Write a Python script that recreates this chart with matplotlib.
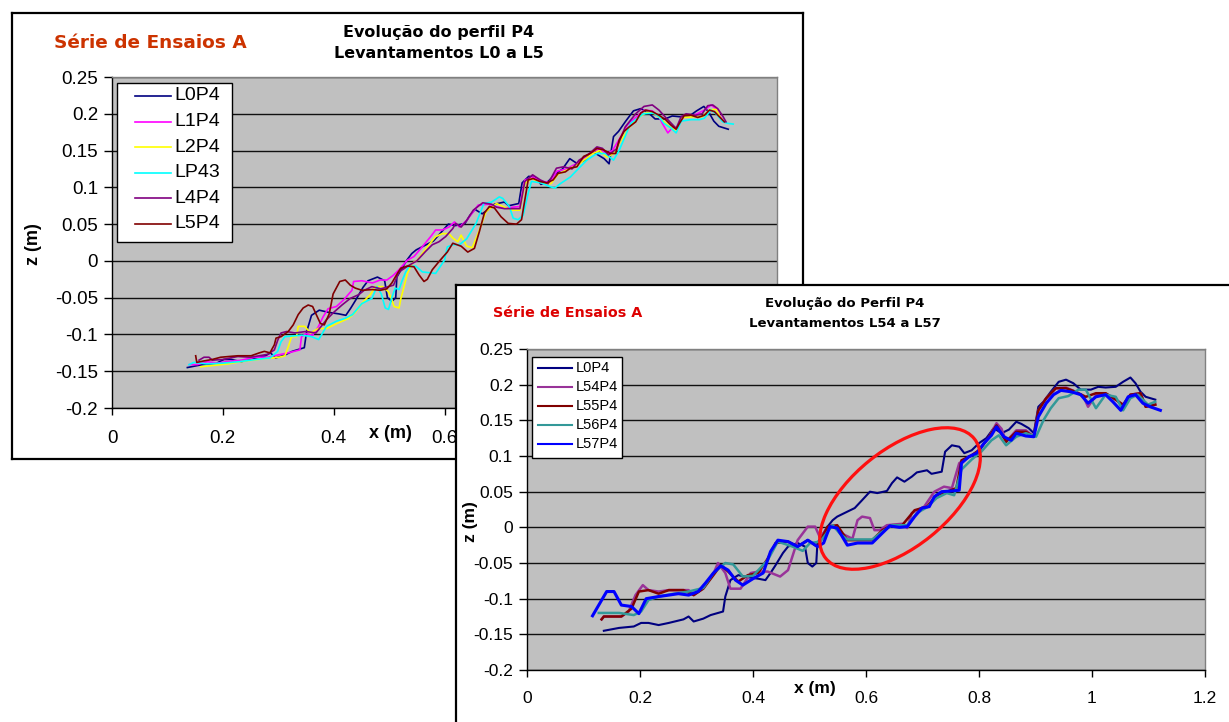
import matplotlib
matplotlib.use("Agg")
import matplotlib.pyplot as plt
from matplotlib.patches import Ellipse, Rectangle
from matplotlib.lines import Line2D

# ---------------- data ----------------
yticks = [0.25, 0.2, 0.15, 0.1, 0.05, 0, -0.05, -0.1, -0.15, -0.2]
ytick_labels = ['0.25', '0.2', '0.15', '0.1', '0.05', '0', '-0.05', '-0.1', '-0.15', '-0.2']
xticks = [0, 0.2, 0.4, 0.6, 0.8, 1.0, 1.2]
xtick_labels = ['0', '0.2', '0.4', '0.6', '0.8', '1', '1.2']

L0P4 = [(0.136,-0.145),(0.163,-0.141),(0.189,-0.139),(0.202,-0.134),(0.215,-0.134),(0.233,-0.137),
        (0.251,-0.134),(0.277,-0.129),(0.286,-0.125),(0.295,-0.132),(0.312,-0.128),(0.325,-0.123),
        (0.347,-0.118),(0.351,-0.097),(0.360,-0.074),(0.374,-0.067),(0.391,-0.070),(0.409,-0.072),
        (0.422,-0.074),(0.431,-0.064),(0.440,-0.053),(0.453,-0.036),(0.462,-0.027),(0.479,-0.022),
        (0.492,-0.027),(0.497,-0.050),(0.505,-0.055),(0.512,-0.050),(0.514,-0.022),(0.521,-0.013),
        (0.532,0.001),(0.541,0.010),(0.549,0.015),(0.567,0.022),(0.580,0.027),(0.593,0.038),
        (0.607,0.050),(0.620,0.048),(0.637,0.051),(0.646,0.062),(0.655,0.070),(0.668,0.064),
        (0.681,0.071),(0.690,0.077),(0.708,0.080),(0.716,0.075),(0.734,0.078),(0.740,0.106),
        (0.752,0.115),(0.765,0.113),(0.774,0.104),(0.787,0.108),(0.800,0.118),(0.813,0.125),
        (0.826,0.139),(0.840,0.132),(0.853,0.137),(0.866,0.148),(0.875,0.145),(0.888,0.139),
        (0.897,0.132),(0.905,0.169),(0.914,0.176),(0.927,0.190),(0.941,0.204),(0.954,0.207),
        (0.967,0.202),(0.980,0.193),(0.998,0.193),(1.011,0.197),(1.024,0.196),(1.042,0.197),
        (1.055,0.204),(1.068,0.210),(1.077,0.202),(1.086,0.190),(1.095,0.183),(1.112,0.179)]

L1P4 = [(0.140,-0.141),(0.154,-0.141),(0.172,-0.137),(0.190,-0.139),(0.206,-0.137),(0.233,-0.135),
        (0.257,-0.131),(0.281,-0.131),(0.299,-0.128),(0.318,-0.125),(0.339,-0.121),(0.342,-0.103),
        (0.350,-0.099),(0.362,-0.101),(0.372,-0.090),(0.381,-0.076),(0.390,-0.065),(0.405,-0.062),
        (0.418,-0.053),(0.433,-0.040),(0.436,-0.028),(0.451,-0.027),(0.470,-0.030),(0.484,-0.026),
        (0.496,-0.026),(0.507,-0.020),(0.518,-0.012),(0.533,0.001),(0.545,0.006),(0.563,0.022),
        (0.575,0.033),(0.584,0.042),(0.596,0.042),(0.608,0.046),(0.618,0.053),(0.627,0.046),
        (0.640,0.055),(0.650,0.065),(0.661,0.076),(0.680,0.077),(0.695,0.073),(0.710,0.072),
        (0.736,0.074),(0.745,0.110),(0.760,0.114),(0.775,0.108),(0.790,0.107),(0.803,0.122),
        (0.820,0.125),(0.840,0.133),(0.860,0.145),(0.877,0.152),(0.893,0.146),(0.903,0.150),
        (0.915,0.165),(0.930,0.185),(0.945,0.195),(0.960,0.205),(0.975,0.204),(0.987,0.196),
        (0.993,0.187),(1.003,0.174),(1.010,0.180),(1.020,0.182),(1.033,0.198),(1.050,0.198),
        (1.069,0.205),(1.081,0.212),(1.090,0.207),(1.100,0.193)]

L2P4 = [(0.160,-0.144),(0.184,-0.142),(0.210,-0.140),(0.233,-0.137),(0.263,-0.134),(0.287,-0.132),
        (0.302,-0.131),(0.312,-0.129),(0.318,-0.117),(0.324,-0.103),(0.333,-0.103),(0.336,-0.089),
        (0.348,-0.089),(0.358,-0.098),(0.372,-0.092),(0.387,-0.092),(0.406,-0.085),(0.427,-0.078),
        (0.439,-0.070),(0.454,-0.055),(0.466,-0.046),(0.475,-0.035),(0.488,-0.035),(0.499,-0.042),
        (0.505,-0.053),(0.509,-0.062),(0.518,-0.064),(0.521,-0.052),(0.527,-0.035),(0.533,-0.017),
        (0.542,-0.003),(0.551,0.001),(0.560,0.010),(0.572,0.022),(0.584,0.033),(0.596,0.037),
        (0.608,0.037),(0.615,0.031),(0.624,0.026),(0.630,0.035),(0.640,0.020),(0.650,0.018),
        (0.662,0.040),(0.675,0.067),(0.694,0.078),(0.708,0.073),(0.722,0.069),(0.736,0.069),
        (0.745,0.105),(0.757,0.112),(0.775,0.106),(0.792,0.105),(0.805,0.118),(0.825,0.125),
        (0.845,0.133),(0.865,0.145),(0.880,0.150),(0.893,0.141),(0.905,0.146),(0.918,0.163),
        (0.935,0.183),(0.950,0.195),(0.965,0.202),(0.980,0.200),(0.995,0.190),(1.010,0.180),
        (1.018,0.178),(1.030,0.195),(1.050,0.196),(1.065,0.196),(1.078,0.205),(1.090,0.206),
        (1.100,0.192)]

LP43 = [(0.139,-0.141),(0.148,-0.138),(0.170,-0.140),(0.200,-0.139),(0.230,-0.137),(0.260,-0.134),
        (0.285,-0.132),(0.299,-0.123),(0.305,-0.110),(0.312,-0.103),(0.327,-0.102),(0.342,-0.101),
        (0.360,-0.103),(0.373,-0.107),(0.387,-0.089),(0.405,-0.082),(0.421,-0.078),(0.434,-0.073),
        (0.451,-0.058),(0.469,-0.051),(0.478,-0.035),(0.486,-0.045),(0.493,-0.064),(0.499,-0.066),
        (0.505,-0.050),(0.511,-0.037),(0.518,-0.039),(0.524,-0.026),(0.530,-0.015),(0.536,-0.008),
        (0.548,-0.007),(0.560,-0.015),(0.584,-0.017),(0.600,0.001),(0.605,0.019),(0.615,0.022),
        (0.627,0.022),(0.640,0.030),(0.657,0.051),(0.671,0.078),(0.685,0.080),(0.699,0.087),
        (0.705,0.085),(0.717,0.074),(0.724,0.058),(0.733,0.056),(0.742,0.062),(0.751,0.092),
        (0.757,0.108),(0.775,0.106),(0.790,0.101),(0.799,0.099),(0.809,0.105),(0.827,0.114),
        (0.845,0.128),(0.857,0.137),(0.875,0.146),(0.890,0.146),(0.905,0.137),(0.915,0.150),
        (0.936,0.187),(0.959,0.200),(0.978,0.201),(0.987,0.196),(0.996,0.187),(1.008,0.181),
        (1.018,0.174),(1.027,0.190),(1.045,0.192),(1.060,0.192),(1.069,0.194),(1.081,0.205),
        (1.090,0.200),(1.102,0.189),(1.111,0.187),(1.121,0.186)]

L4P4 = [(0.157,-0.135),(0.166,-0.131),(0.175,-0.131),(0.181,-0.135),(0.200,-0.134),(0.227,-0.130),
        (0.250,-0.131),(0.281,-0.127),(0.293,-0.121),(0.299,-0.108),(0.305,-0.098),(0.315,-0.096),
        (0.330,-0.098),(0.350,-0.096),(0.368,-0.098),(0.387,-0.080),(0.400,-0.070),(0.415,-0.060),
        (0.430,-0.051),(0.445,-0.046),(0.455,-0.040),(0.469,-0.035),(0.485,-0.038),(0.499,-0.035),
        (0.508,-0.033),(0.518,-0.015),(0.536,-0.006),(0.550,0.000),(0.566,0.013),(0.578,0.022),
        (0.590,0.026),(0.602,0.033),(0.615,0.044),(0.620,0.051),(0.630,0.046),(0.640,0.055),
        (0.652,0.069),(0.669,0.079),(0.685,0.077),(0.694,0.073),(0.708,0.071),(0.736,0.071),
        (0.745,0.108),(0.759,0.117),(0.773,0.110),(0.787,0.105),(0.802,0.126),(0.815,0.128),
        (0.830,0.125),(0.843,0.137),(0.860,0.145),(0.875,0.155),(0.885,0.153),(0.896,0.144),
        (0.910,0.152),(0.926,0.182),(0.945,0.200),(0.960,0.210),(0.975,0.212),(0.987,0.205),
        (0.999,0.195),(1.008,0.188),(1.018,0.180),(1.027,0.196),(1.036,0.200),(1.053,0.198),
        (1.065,0.200),(1.075,0.211),(1.084,0.212),(1.093,0.207),(1.102,0.197),(1.108,0.189)]

L5P4 = [(0.151,-0.129),(0.153,-0.138),(0.166,-0.136),(0.181,-0.134),(0.196,-0.131),(0.211,-0.130),
        (0.227,-0.129),(0.251,-0.129),(0.266,-0.125),(0.275,-0.123),(0.285,-0.125),(0.293,-0.114),
        (0.296,-0.105),(0.305,-0.103),(0.318,-0.096),(0.327,-0.087),(0.336,-0.073),(0.345,-0.064),
        (0.354,-0.060),(0.362,-0.062),(0.368,-0.072),(0.376,-0.085),(0.383,-0.087),(0.392,-0.072),
        (0.399,-0.045),(0.411,-0.028),(0.421,-0.026),(0.430,-0.033),(0.439,-0.037),(0.451,-0.040),
        (0.470,-0.039),(0.484,-0.040),(0.496,-0.038),(0.505,-0.030),(0.515,-0.017),(0.521,-0.010),
        (0.533,-0.007),(0.545,-0.008),(0.554,-0.019),(0.563,-0.028),(0.569,-0.025),(0.578,-0.012),
        (0.590,-0.001),(0.605,0.012),(0.615,0.024),(0.630,0.020),(0.642,0.012),(0.654,0.017),
        (0.663,0.040),(0.672,0.065),(0.681,0.074),(0.690,0.072),(0.702,0.060),(0.715,0.051),
        (0.730,0.050),(0.739,0.056),(0.745,0.083),(0.751,0.110),(0.760,0.112),(0.772,0.108),
        (0.784,0.106),(0.796,0.110),(0.805,0.119),(0.818,0.121),(0.827,0.126),(0.839,0.128),
        (0.851,0.142),(0.863,0.146),(0.875,0.153),(0.887,0.151),(0.899,0.146),(0.909,0.146),
        (0.915,0.164),(0.924,0.176),(0.933,0.182),(0.945,0.189),(0.954,0.201),(0.963,0.205),
        (0.975,0.203),(0.987,0.198),(0.999,0.192),(1.008,0.185),(1.018,0.179),(1.024,0.187),
        (1.033,0.198),(1.045,0.198),(1.057,0.195),(1.069,0.198),(1.078,0.205),(1.087,0.203),
        (1.096,0.196),(1.105,0.189)]

L54P4 = [(0.132,-0.129),(0.136,-0.125),(0.167,-0.125),(0.180,-0.118),(0.192,-0.095),(0.205,-0.081),
         (0.215,-0.088),(0.233,-0.090),(0.251,-0.088),(0.270,-0.088),(0.286,-0.088),(0.295,-0.095),
         (0.312,-0.085),(0.330,-0.065),(0.338,-0.050),(0.351,-0.064),(0.360,-0.086),(0.378,-0.086),
         (0.396,-0.064),(0.410,-0.062),(0.426,-0.062),(0.448,-0.069),(0.462,-0.060),(0.479,-0.018),
         (0.497,0.001),(0.510,0.001),(0.519,-0.015),(0.530,-0.002),(0.541,0.003),(0.558,-0.009),
         (0.576,-0.016),(0.585,0.010),(0.593,0.015),(0.607,0.013),(0.615,-0.004),(0.624,-0.004),
         (0.637,0.003),(0.664,0.005),(0.673,-0.001),(0.681,0.020),(0.703,0.029),(0.721,0.050),
         (0.738,0.057),(0.752,0.055),(0.765,0.090),(0.787,0.101),(0.800,0.108),(0.818,0.127),
         (0.831,0.146),(0.840,0.138),(0.848,0.120),(0.866,0.136),(0.883,0.136),(0.897,0.127),
         (0.905,0.164),(0.919,0.181),(0.936,0.195),(0.954,0.196),(0.971,0.190),(0.985,0.183),
         (0.993,0.169),(1.007,0.185),(1.024,0.188),(1.042,0.179),(1.055,0.170),(1.068,0.186),
         (1.086,0.188),(1.095,0.169),(1.112,0.172)]

L55P4 = [(0.132,-0.129),(0.136,-0.125),(0.167,-0.125),(0.185,-0.114),(0.198,-0.090),(0.215,-0.088),
         (0.233,-0.093),(0.251,-0.088),(0.277,-0.088),(0.295,-0.095),(0.312,-0.086),(0.330,-0.067),
         (0.343,-0.053),(0.356,-0.062),(0.374,-0.076),(0.391,-0.067),(0.409,-0.064),(0.426,-0.044),
         (0.440,-0.022),(0.462,-0.020),(0.479,-0.027),(0.497,-0.018),(0.514,-0.027),(0.532,0.001),
         (0.549,0.003),(0.567,-0.018),(0.611,-0.018),(0.629,-0.004),(0.646,0.003),(0.664,0.003),
         (0.686,0.024),(0.708,0.029),(0.725,0.045),(0.743,0.050),(0.760,0.055),(0.769,0.094),
         (0.787,0.101),(0.800,0.108),(0.818,0.127),(0.831,0.143),(0.848,0.120),(0.866,0.134),
         (0.883,0.134),(0.897,0.127),(0.905,0.164),(0.919,0.181),(0.936,0.195),(0.954,0.195),
         (0.971,0.190),(0.989,0.183),(1.007,0.188),(1.024,0.188),(1.042,0.179),(1.055,0.172),
         (1.068,0.186),(1.086,0.188),(1.095,0.169),(1.112,0.172)]

L56P4 = [(0.127,-0.120),(0.163,-0.120),(0.189,-0.123),(0.202,-0.118),(0.215,-0.102),(0.233,-0.097),
         (0.260,-0.093),(0.286,-0.090),(0.312,-0.085),(0.330,-0.064),(0.351,-0.050),(0.365,-0.052),
         (0.382,-0.069),(0.400,-0.068),(0.426,-0.046),(0.444,-0.020),(0.470,-0.027),(0.488,-0.033),
         (0.501,-0.022),(0.519,-0.020),(0.541,0.003),(0.554,-0.009),(0.567,-0.017),(0.611,-0.017),
         (0.629,-0.006),(0.646,0.003),(0.673,0.003),(0.690,0.020),(0.708,0.028),(0.725,0.041),
         (0.743,0.048),(0.756,0.045),(0.769,0.081),(0.787,0.095),(0.804,0.106),(0.822,0.122),
         (0.835,0.129),(0.848,0.115),(0.866,0.127),(0.883,0.132),(0.901,0.127),(0.914,0.150),
         (0.927,0.167),(0.941,0.181),(0.958,0.184),(0.976,0.193),(0.989,0.193),(1.007,0.167),
         (1.024,0.186),(1.042,0.183),(1.055,0.164),(1.068,0.181),(1.081,0.186),(1.099,0.172),
         (1.112,0.176)]

L57P4 = [(0.116,-0.124),(0.127,-0.109),(0.141,-0.090),(0.154,-0.090),(0.167,-0.109),(0.185,-0.111),
         (0.198,-0.121),(0.211,-0.100),(0.233,-0.097),(0.251,-0.095),(0.268,-0.093),(0.286,-0.095),
         (0.303,-0.090),(0.316,-0.078),(0.330,-0.064),(0.343,-0.054),(0.356,-0.060),(0.369,-0.074),
         (0.382,-0.081),(0.400,-0.072),(0.418,-0.064),(0.431,-0.034),(0.444,-0.018),(0.462,-0.020),
         (0.479,-0.027),(0.497,-0.018),(0.514,-0.027),(0.525,-0.022),(0.536,0.001),(0.549,-0.001),
         (0.567,-0.025),(0.585,-0.022),(0.611,-0.022),(0.629,-0.008),(0.642,0.002),(0.659,0.000),
         (0.673,0.001),(0.686,0.015),(0.699,0.027),(0.712,0.029),(0.721,0.043),(0.734,0.050),
         (0.752,0.051),(0.765,0.052),(0.769,0.090),(0.782,0.099),(0.796,0.104),(0.809,0.118),
         (0.822,0.129),(0.831,0.141),(0.844,0.127),(0.857,0.122),(0.866,0.132),(0.883,0.128),
         (0.897,0.127),(0.905,0.155),(0.919,0.174),(0.932,0.186),(0.945,0.192),(0.963,0.190),
         (0.980,0.186),(0.993,0.174),(1.007,0.183),(1.024,0.186),(1.037,0.176),(1.051,0.164),
         (1.064,0.183),(1.077,0.186),(1.090,0.174),(1.103,0.169),(1.121,0.164)]

chart1_series = [('L0P4', L0P4, '#000080'), ('L1P4', L1P4, '#FF00FF'), ('L2P4', L2P4, '#FFFF00'),
                 ('LP43', LP43, '#00FFFF'), ('L4P4', L4P4, '#800080'), ('L5P4', L5P4, '#800000')]
chart2_series = [('L0P4', L0P4, '#000080', 1.5), ('L54P4', L54P4, '#993399', 1.8),
                 ('L55P4', L55P4, '#800000', 1.8), ('L56P4', L56P4, '#339999', 1.8),
                 ('L57P4', L57P4, '#0000FF', 2.2)]

# ---------------- layout ----------------
W, H = 1229, 722
fig = plt.figure(figsize=(W / 100, H / 100), dpi=100)
fig.patch.set_facecolor('white')
TICKFONT = 'Liberation Sans'
TF = None  # set after figure exists


def rect(l, t, r, b):
    return [l / W, 1 - b / H, (r - l) / W, (b - t) / H]


def fpos(x, y):
    return x / W, 1 - y / H


def frame(box, z):
    a = fig.add_axes(rect(*box), zorder=z)
    a.set_xticks([])
    a.set_yticks([])
    a.set_facecolor('white')
    for s in a.spines.values():
        s.set_linewidth(1.6)
        s.set_color('black')
    return a


def style(ax, fs, xpad, ypad):
    ax.set_facecolor('#C0C0C0')
    ax.set_xlim(0, 1.2)
    ax.set_ylim(-0.2, 0.25)
    ax.set_yticks(yticks)
    ax.set_yticklabels(ytick_labels, fontfamily=TICKFONT, fontsize=fs)
    ax.set_xticks(xticks)
    ax.set_xticklabels(xtick_labels, fontfamily=TICKFONT, fontsize=fs)
    ax.yaxis.grid(True, color='#101010', lw=1.0)
    ax.xaxis.grid(False)
    ax.set_axisbelow(True)
    ax.spines['left'].set_color('black')
    ax.spines['bottom'].set_color('black')
    ax.spines['top'].set_color('#808080')
    ax.spines['right'].set_color('#808080')
    for s in ax.spines.values():
        s.set_linewidth(1.0)
    ax.tick_params(axis='y', direction='out', length=6, width=1, pad=ypad)
    ax.tick_params(axis='x', direction='out', length=5, width=1, pad=xpad)


def legend_box(ax, box, rows_y, line_x0, line_x1, text_x, entries, fs, lw):
    tf = fig.transFigure
    l, t, r, b = box
    ax.add_artist(Rectangle(fpos(l, b), (r - l) / W, (b - t) / H, transform=tf,
                            facecolor='white', edgecolor='black', lw=1.0, zorder=20,
                            clip_on=False))
    for yy, (name, col) in zip(rows_y, entries):
        x0, y0 = fpos(line_x0, yy)
        x1, _ = fpos(line_x1, yy)
        ax.add_artist(Line2D([x0, x1], [y0, y0], transform=tf, color=col, lw=lw,
                             zorder=21, clip_on=False))
        ax.text(*fpos(text_x, yy), name, transform=tf, ha='left', va='center',
                fontsize=fs, family=TICKFONT, zorder=22, clip_on=False)


def txt(owner, x, y, s, **kw):
    owner.text(*fpos(x, y), s, transform=fig.transFigure, ha='center', va='center', **kw)


# chart 1
frame1 = frame((12, 13, 803, 459), 0)
ax1 = fig.add_axes(rect(112, 77, 777, 408), zorder=1)
style(ax1, 13.5, 11, 4)
for name, pts, col in chart1_series:
    ax1.plot([p[0] for p in pts], [p[1] for p in pts], color=col, lw=1.2, label=name)
legend_box(ax1, (117, 83, 232, 242), [96 + 25.6 * i for i in range(6)], 135, 171, 174,
           [(n, c) for n, _, c in chart1_series], 14, 1.2)

txt(frame1, 150, 43, 'Série de Ensaios A', fontsize=13.3, fontweight='bold', color='#CC3300',
    family='DejaVu Sans')
txt(frame1, 439, 33, 'Evolução do perfil P4', fontsize=11.5, fontweight='bold', family='DejaVu Sans')
txt(frame1, 439, 53, 'Levantamentos L0 a L5', fontsize=11.5, fontweight='bold', family='DejaVu Sans')
txt(frame1, 390, 433, 'x (m)', fontsize=13, fontweight='bold', family=TICKFONT)
txt(frame1, 34, 244, 'z (m)', fontsize=13, fontweight='bold', family=TICKFONT, rotation=90)

# chart 2
frame2 = frame((456, 285, 1240, 740), 2)
ax2 = fig.add_axes(rect(527, 349, 1205, 670), zorder=3)
style(ax2, 12.5, 10, 4)
for name, pts, col, lw in chart2_series:
    ax2.plot([p[0] for p in pts], [p[1] for p in pts], color=col, lw=lw, label=name)
legend_box(ax2, (532, 357, 622, 458), [368 + 19 * i for i in range(5)], 538, 572, 576,
           [(n, c) for n, _, c, _ in chart2_series], 10.5, 1.5)

txt(frame2, 568, 313, 'Série de Ensaios A', fontsize=10.3, fontweight='bold', color='#DD0000',
    family='DejaVu Sans')
txt(frame2, 845, 304, 'Evolução do Perfil P4', fontsize=9.5, fontweight='bold', family='DejaVu Sans')
txt(frame2, 845, 324, 'Levantamentos L54 a L57', fontsize=9.5, fontweight='bold', family='DejaVu Sans')
txt(frame2, 815, 689, 'x (m)', fontsize=12.5, fontweight='bold', family=TICKFONT)
txt(frame2, 471, 522, 'z (m)', fontsize=12.5, fontweight='bold', family=TICKFONT, rotation=90)

# red ellipse highlighting the changed zone
ell = Ellipse((9.00, (H - 498.5) / 100), 1.907, 0.973, angle=38.8,
              transform=fig.dpi_scale_trans, fill=False, edgecolor='#FF1010', lw=2.3, zorder=10)
fig.add_artist(ell)

fig.savefig('out.png', dpi=100)
